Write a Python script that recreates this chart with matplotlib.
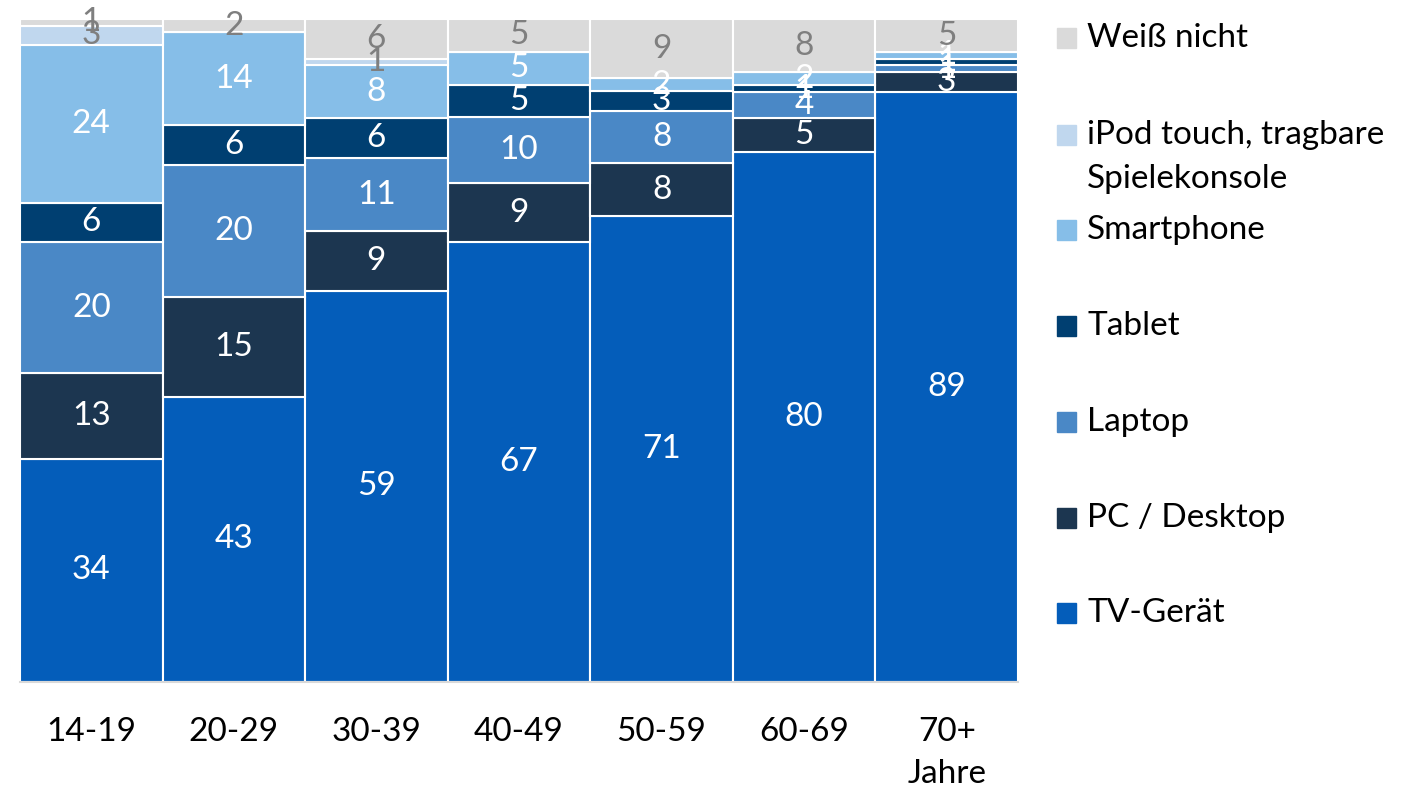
import matplotlib.pyplot as plt
from matplotlib.patches import Rectangle

plt.rcParams["font.family"] = ["Lato", "DejaVu Sans"]

groups = ["14-19", "20-29", "30-39", "40-49", "50-59", "60-69", "70+\nJahre"]

series = ["TV-Gerät", "PC / Desktop", "Laptop", "Tablet", "Smartphone",
          "iPod touch, tragbare\nSpielekonsole", "Weiß nicht"]

tv = [34, 43, 59, 67, 71, 80, 89]
pc = [13, 15, 9, 9, 8, 5, 3]
laptop = [20, 20, 11, 10, 8, 4, 1]
tablet = [6, 6, 6, 5, 3, 1, 1]
smartphone = [24, 14, 8, 5, 2, 2, 1]
ipod = [3, 0, 1, 0, 0, 0, 0]
weiss = [1, 2, 6, 5, 9, 8, 5]

values = [tv, pc, laptop, tablet, smartphone, ipod, weiss]
colors = ["#045DBA", "#1C3650", "#4A88C6", "#003F71", "#86BEE8", "#C0D7EE", "#DADADA"]
text_colors = ["white", "white", "white", "white", "white", "#7F7F7F", "#7F7F7F"]

# 100% stacked: each column scaled to its own total
totals = [sum(col) for col in zip(*values)]

fig = plt.figure(figsize=(14.28, 7.9), dpi=100)
ax = fig.add_axes([20 / 1428, 1 - 682 / 790, 998 / 1428, 663 / 790])

x = range(len(groups))
bottom = [0] * len(groups)
for vals, col, tcol in zip(values, colors, text_colors):
    h = [v * 100 / t for v, t in zip(vals, totals)]
    ax.bar(x, h, width=1.0, bottom=bottom, color=col, edgecolor="white",
           linewidth=1.5, clip_on=False)
    for i, v in enumerate(vals):
        if v > 0:
            ax.text(i, bottom[i] + h[i] / 2, str(v), ha="center", va="center",
                    color=tcol, fontsize=24)
    bottom = [b + hh for b, hh in zip(bottom, h)]

ax.set_xlim(-0.5, len(groups) - 0.5)
ax.set_ylim(0, 100)
ax.set_yticks([])
ax.set_xticks(list(x))
ax.set_xticklabels(groups, fontsize=24, linespacing=1.5)
ax.tick_params(axis="x", length=0, pad=25)
for s in ["top", "right", "left"]:
    ax.spines[s].set_visible(False)
ax.spines["bottom"].set_color("#D9D9D9")
ax.spines["bottom"].set_linewidth(1.5)

# legend, top entry first
leg_y = [38, 135, 230, 326, 422, 518, 613]
for name, col, yy in zip(series[::-1], colors[::-1], leg_y):
    fy = 1 - yy / 790
    fig.patches.append(Rectangle((1057 / 1428, fy - 10 / 790), 19 / 1428, 20 / 790,
                                 transform=fig.transFigure, color=col))
    if "\n" in name:
        fig.text(1087 / 1428, fy - 22 / 790, name, fontsize=24, va="center",
                 linespacing=1.6)
    else:
        fig.text(1087 / 1428, fy, name, fontsize=24, va="center")

fig.savefig("out.png", dpi=100, facecolor="white")
